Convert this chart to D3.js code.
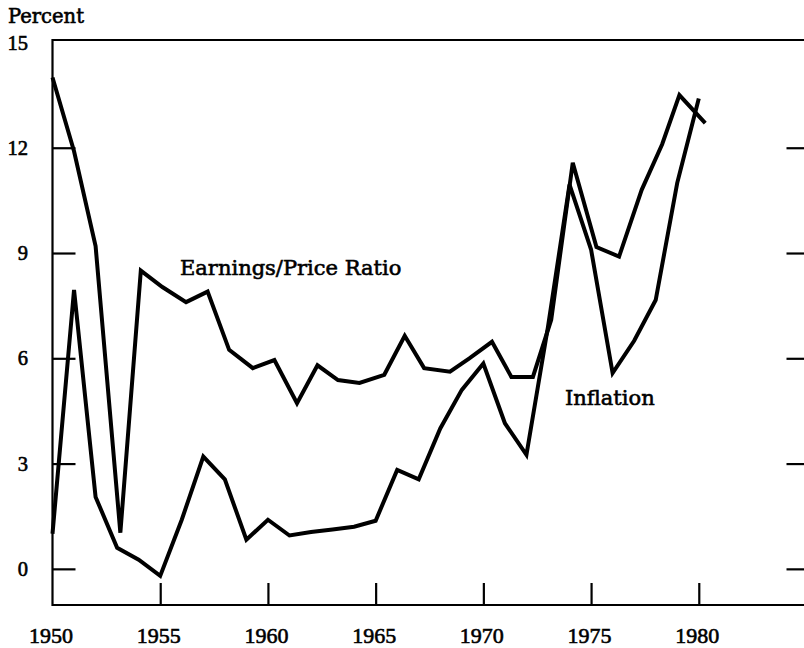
<!DOCTYPE html>
<html>
<head>
<meta charset="utf-8">
<script src="https://cdn.jsdelivr.net/npm/d3@7"></script>
<style>
  body { margin: 0; background: #fff; }
  text { stroke: #000; stroke-width: 0.6px; }
  .label { font-family: 'DejaVu Serif', serif; fill: #000; }
</style>
</head>
<body>
<svg width="804" height="648"></svg>
<script>
const years = d3.range(1950, 1981);

// inflation, percent
const inflation = [
  1.0, 7.95, 2.05, 0.6, 0.26, -0.2, 1.4, 3.2, 2.55, 0.83,
  1.4, 0.95, 1.05, 1.12, 1.2, 1.37, 2.82, 2.55, 4.0, 5.1,
  5.85, 4.15, 3.25, 6.9, 10.95, 9.1, 5.58, 6.5, 7.66, 11.0,
  13.4
];

// earnings/price ratio, plotted slightly after each year mark in the original
const epYears = [
  1950.0, 1951.0, 1952.0, 1953.15, 1954.1, 1955.1, 1956.2, 1957.2, 1958.2, 1959.3,
  1960.3, 1961.35, 1962.3, 1963.25, 1964.25, 1965.4, 1966.35, 1967.25, 1968.45, 1969.35,
  1970.4, 1971.3, 1972.3, 1973.15, 1974.15, 1975.25, 1976.3, 1977.35, 1978.3, 1979.1,
  1980.3
];
const epRatio = [
  14.0, 11.9, 9.2, 1.03, 8.5, 8.03, 7.6, 7.9, 6.24, 5.72,
  5.95, 4.72, 5.8, 5.38, 5.3, 5.53, 6.64, 5.72, 5.62, 6.0,
  6.47, 5.47, 5.47, 7.1, 11.57, 9.17, 8.9, 10.8, 12.1, 13.5,
  12.7
];

const yTicks = [0, 3, 6, 9, 12, 15];
const xTicks = [1950, 1955, 1960, 1965, 1970, 1975, 1980];

const svg = d3.select('svg');

const x = d3.scaleLinear().domain([1950, 1985]).range([52.5, 806.5]);
const y = d3.scaleLinear().domain([-1.03, 15.07]).range([605, 40]);

const line = d3.line()
    .x(d => x(d[0]))
    .y(d => y(d[1]));

const styleTicks = g => g
    .attr('font-family', "'Liberation Serif', serif")
    .call(g => g.select('.domain').remove())
    .call(g => g.selectAll('.tick line').attr('stroke', '#000').attr('stroke-width', 2.2))
    .call(g => g.selectAll('.tick text').attr('fill', '#000'));

// frame: left, top, bottom
svg.append('path')
    .attr('d', `M${x(1985) + 2},${y(15.07)}H${x(1950)}V${y(-1.03)}H${x(1985) + 2}`)
    .attr('fill', 'none')
    .attr('stroke', '#000')
    .attr('stroke-width', 2.2);

svg.append('g')
    .attr('transform', `translate(${x(1950)},0)`)
    .call(d3.axisLeft(y).tickValues(yTicks).tickSize(-23).tickPadding(24.5))
    .call(styleTicks)
    .attr('font-size', 20.5)
    .call(g => g.selectAll('.tick line').filter(d => d === 15).remove());

svg.append('g')
    .attr('transform', `translate(${x(1985)},0)`)
    .call(d3.axisRight(y).tickValues(yTicks.slice(0, 5)).tickSize(-20).tickFormat(''))
    .call(styleTicks);

svg.append('g')
    .attr('transform', `translate(0,${y(-1.03)})`)
    .call(d3.axisBottom(x).tickValues(xTicks).tickSize(-22).tickPadding(22.4).tickFormat(d3.format('d')))
    .call(styleTicks)
    .attr('font-size', 22)
    .call(g => g.selectAll('.tick line').filter(d => d === 1950).remove())
    .call(g => g.selectAll('.tick text').attr('dx', -2));

svg.append('path')
    .attr('d', line(years.map((yr, i) => [yr, inflation[i]])))
    .attr('fill', 'none')
    .attr('stroke', '#000')
    .attr('stroke-width', 4)
    .attr('stroke-linejoin', 'miter');

svg.append('path')
    .attr('d', line(epYears.map((yr, i) => [yr, epRatio[i]])))
    .attr('fill', 'none')
    .attr('stroke', '#000')
    .attr('stroke-width', 4)
    .attr('stroke-linejoin', 'miter');

svg.append('text')
    .attr('class', 'label')
    .attr('x', 8)
    .attr('y', 23)
    .attr('font-size', 19.5)
    .text('Percent');

svg.append('text')
    .attr('class', 'label')
    .attr('x', 180)
    .attr('y', 275)
    .attr('font-size', 21)
    .text('Earnings/Price Ratio');

svg.append('text')
    .attr('class', 'label')
    .attr('x', 565)
    .attr('y', 405)
    .attr('font-size', 21)
    .text('Inflation');
</script>
</body>
</html>
